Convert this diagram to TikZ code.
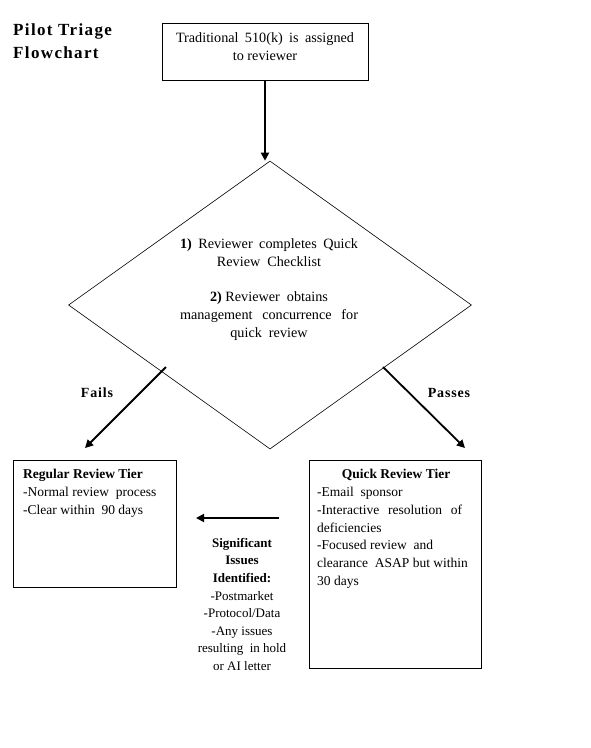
\documentclass[tikz,border=0pt]{standalone}
\usepackage{fontspec}
\setmainfont{Liberation Serif}
\usetikzlibrary{arrows.meta,shapes.geometric}
\begin{document}
\begin{tikzpicture}[x=1pt,y=-1pt,
  box/.style={draw,line width=0.9pt,inner sep=0},
  arr/.style={line width=1.8pt,-{Triangle[length=8pt,width=8pt]}},
  bigtxt/.style={font=\fontsize{14.2}{18}\selectfont,inner sep=0},
  txt/.style={font=\fontsize{13.5}{17.8}\selectfont,inner sep=0},
  sigtxt/.style={font=\fontsize{13}{17.6}\selectfont,inner sep=0},
  lbl/.style={font=\fontsize{14}{18}\selectfont\bfseries\addfontfeature{LetterSpace=6},inner sep=0}
]
\useasboundingbox (0,0) rectangle (591,748);
% title
\node[anchor=north west,inner sep=0,align=left,font=\fontsize{17}{23}\selectfont\bfseries\addfontfeature{LetterSpace=8}] (title) at (13,23) {Pilot Triage\\Flowchart};
% top box
\node[box,minimum width=206pt,minimum height=57pt,anchor=north west] (top) at (162,23) {};
\node[bigtxt,anchor=north,align=center] (toptxt) at (265,32) {\makebox[178pt][s]{Traditional 510(k) is assigned}\\to reviewer};
% diamond
\node[draw,diamond,line width=0.6pt,minimum width=403pt,minimum height=288pt,inner sep=0] (dia) at (270,305) {};
\node[bigtxt,anchor=north,align=center] (diatxt) at (269,238) {\makebox[178pt][s]{\textbf{1)} Reviewer completes Quick}\\Review\ \ Checklist\\[17pt]\textbf{2)} Reviewer\ \ obtains\\\makebox[178pt][s]{management concurrence for}\\quick\ \ review};
% tiers
\node[box,minimum width=163pt,minimum height=127pt,anchor=north west] (reg) at (13,460) {};
\node[txt,anchor=north west,align=left] (regtxt) at (23,469) {\textbf{Regular Review Tier}\\-Normal review\ \ process\\-Clear within\ \ 90 days};
\node[box,minimum width=172pt,minimum height=208pt,anchor=north west] (quick) at (309,460) {};
\node[txt,anchor=north,font=\fontsize{13.5}{17.8}\selectfont\bfseries] (quickhead) at (396,469) {Quick Review Tier};
\node[txt,anchor=north west,align=left] (quicktxt) at (317,487) {-Email\ \ sponsor\\\makebox[145pt][s]{-Interactive resolution of}\\deficiencies\\-Focused review\ \ and\\clearance\ \ ASAP but within\\30 days};
% significant issues
\node[sigtxt,anchor=north,align=center] (sig) at (242,538) {\textbf{Significant}\\\textbf{Issues}\\\textbf{Identified:}\\-Postmarket\\-Protocol/Data\\-Any issues\\resulting\ \ in hold\\or AI letter};
% labels
\node[lbl] (fails) at (97,393) {Fails};
\node[lbl] (passes) at (449,393) {Passes};
% connectors
\coordinate (fs) at (166,367);
\coordinate (fe) at (85,448);
\coordinate (ps) at (383,367);
\coordinate (pe) at (465,448);
\coordinate (ss) at (279,518);
\coordinate (se) at (196,518);
\draw[arr] (top.south -| toptxt) -- (toptxt |- dia.north);
\draw[arr] (fs) -- (fe);
\draw[arr] (ps) -- (pe);
\draw[arr] (ss) -- (se);
\end{tikzpicture}
\end{document}
